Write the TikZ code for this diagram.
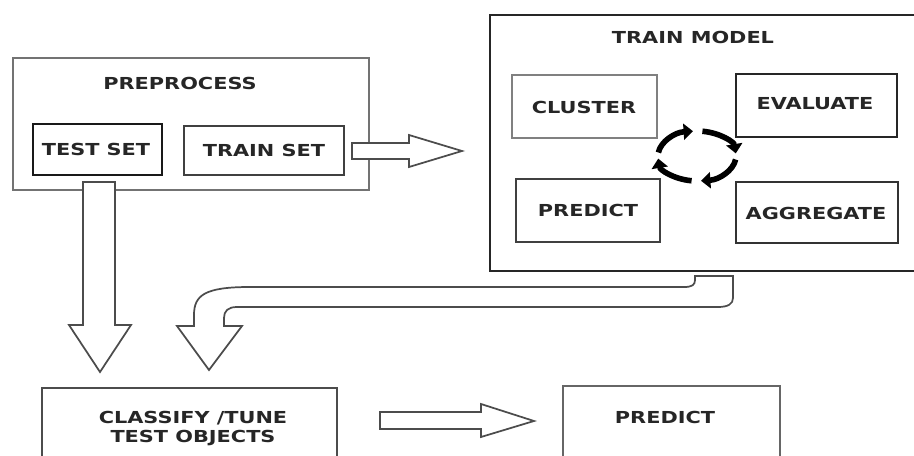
\documentclass[tikz,border=0pt]{standalone}
\usepackage{fontspec}
\usepackage{graphicx}
\usetikzlibrary{fit,arrows.meta,calc}
\newfontfamily\diagfont{DejaVu Sans}
\newcommand\widetxt[1]{\scalebox{1.26}[1]{#1}}
\begin{document}
\begin{tikzpicture}[x=0.75pt,y=-0.75pt,
  box/.style={draw=#1, line width=1.5pt, inner sep=0pt},
  box/.default=black!80,
  lbl/.style={font=\diagfont\bfseries\fontsize{12.4pt}{14.25pt}\selectfont, text=black!85, inner sep=0pt, align=center},
  blockarrow/.style={draw=black!70, line width=1.3pt, fill=white, line join=miter},
  cyc/.style={line width=4.2pt, -{Triangle[length=7pt,width=12pt]}}]
\useasboundingbox (0,0) rectangle (914,456);

% PREPROCESS group
\node[box=black!55, fit={(13,58) (369,190)}] (pre) {};
\node[lbl] (pretitle) at (180,83) {\widetxt{PREPROCESS}};
\node[box=black!90, fit={(33,124) (162,175)}] (testset) {};
\node[lbl] (testtxt) at (96,149) {\widetxt{TEST SET}};
\node[box=black!75, fit={(184,126) (344,175)}] (trainset) {};
\node[lbl] (traintxt) at (264,150) {\widetxt{TRAIN SET}};

% TRAIN MODEL group
\node[box=black!85, fit={(490,15) (920,271)}] (train) {};
\node[lbl] (traintitle) at (693,37) {\widetxt{TRAIN MODEL}};
\node[box=black!50, fit={(512,75) (657,138)}] (cluster) {};
\node[lbl] (clustertxt) at (584,107) {\widetxt{CLUSTER}};
\node[box=black!85, fit={(736,74) (897,137)}] (evaluate) {};
\node[lbl] (evaltxt) at (815,104) {\widetxt{EVALUATE}};
\node[box=black!75, fit={(516,179) (660,242)}] (predictin) {};
\node[lbl] (predintxt) at (588,210) {\widetxt{PREDICT}};
\node[box=black!80, fit={(736,182) (898,243)}] (aggregate) {};
\node[lbl] (aggtxt) at (816,213) {\widetxt{AGGREGATE}};

% cycle icon
\coordinate (cyc) at (697,156);
\foreach \a in {8,98,188,278}{
  \draw[cyc] (cyc) ++(\a:39 and 25) arc[start angle=\a, delta angle=76, x radius=39, y radius=25];
}

% bottom boxes
\node[box=black!70, fit={(42,388) (337,470)}] (classify) {};
\node[lbl] (classtext) at (193,428.5) {\widetxt{CLASSIFY /TUNE}\\\widetxt{TEST OBJECTS}};
\node[box=black!60, fit={(563,386) (780,470)}] (predict) {};
\node[lbl] (predtext) at (665,417) {\widetxt{PREDICT}};

% block arrows
\draw[blockarrow] (352,143) -- (409,143) -- (409,135) -- (462,151) -- (409,167) -- (409,159) -- (352,159) -- cycle;
\draw[blockarrow] (83,182) -- (115,182) -- (115,325) -- (131,325) -- (100,372) -- (69,325) -- (83,325) -- cycle;
\draw[blockarrow] (695,276) -- (733,276) -- (733,298) .. controls (733,304) and (728,307) .. (718,307)
  -- (237,307) .. controls (228,307) and (224,311) .. (224,318) -- (224,326) -- (242,326) -- (209,370)
  -- (177,326) -- (194,326) -- (194,315) .. controls (194,295) and (205,287) .. (250,287)
  -- (684,287) .. controls (692,287) and (695,285) .. (695,280) -- cycle;
\draw[blockarrow] (380,412) -- (481,412) -- (481,404) -- (534,421) -- (481,437) -- (481,429) -- (380,429) -- cycle;
\end{tikzpicture}
\end{document}
